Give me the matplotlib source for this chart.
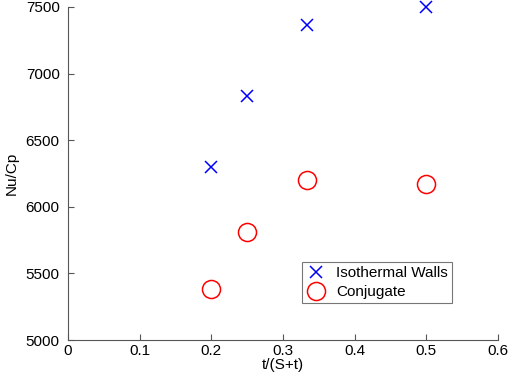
import matplotlib
matplotlib.use('Agg')
import matplotlib.pyplot as plt

plt.rcParams['font.family'] = ['Liberation Sans', 'DejaVu Sans']

ratio = [0.2, 0.25, 1/3, 0.5]
iso_walls = [6300, 6830, 7365, 7500]
conjugate = [5380, 5810, 6200, 6170]
xticks = [0, 0.1, 0.2, 0.3, 0.4, 0.5, 0.6]
yticks = [5000, 5500, 6000, 6500, 7000, 7500]

fig = plt.figure(figsize=(5.1, 3.76), dpi=100)
ax = fig.add_axes([0.1333, 0.0957, 0.8432, 0.8857])

ax.plot(ratio, iso_walls, 'x', color='blue', markersize=9, markeredgewidth=1.1,
        label='Isothermal Walls', clip_on=False)
ax.plot(ratio, conjugate, 'o', color='red', markerfacecolor='none', markersize=13,
        markeredgewidth=1.1, label='Conjugate', clip_on=False)

ax.set_xlim(0, 0.6)
ax.set_ylim(5000, 7500)
ax.set_xticks(xticks)
ax.set_xticklabels(['0', '0.1', '0.2', '0.3', '0.4', '0.5', '0.6'])
ax.set_yticks(yticks)
ax.set_xlabel('t/(S+t)', fontsize=11, labelpad=0)
ax.set_ylabel('Nu/Cp', fontsize=11, labelpad=5)

for s in ['top', 'right']:
    ax.spines[s].set_visible(False)
for s in ['left', 'bottom']:
    ax.spines[s].set_color('#555555')
    ax.spines[s].set_linewidth(0.8)
ax.tick_params(direction='in', length=4, width=0.8, color='#555555',
               labelsize=11, labelcolor='black')
ax.tick_params(axis='x', pad=3)
ax.tick_params(axis='y', pad=6)

leg = ax.legend(loc='lower left', bbox_to_anchor=(0.544, 0.111), fontsize=11,
                frameon=True, fancybox=False, borderpad=0.25, handletextpad=0.6,
                labelspacing=0.35, handlelength=1.4, borderaxespad=0)
leg.get_frame().set_edgecolor('#555555')
leg.get_frame().set_linewidth(0.8)

fig.savefig('out.png', dpi=100)
